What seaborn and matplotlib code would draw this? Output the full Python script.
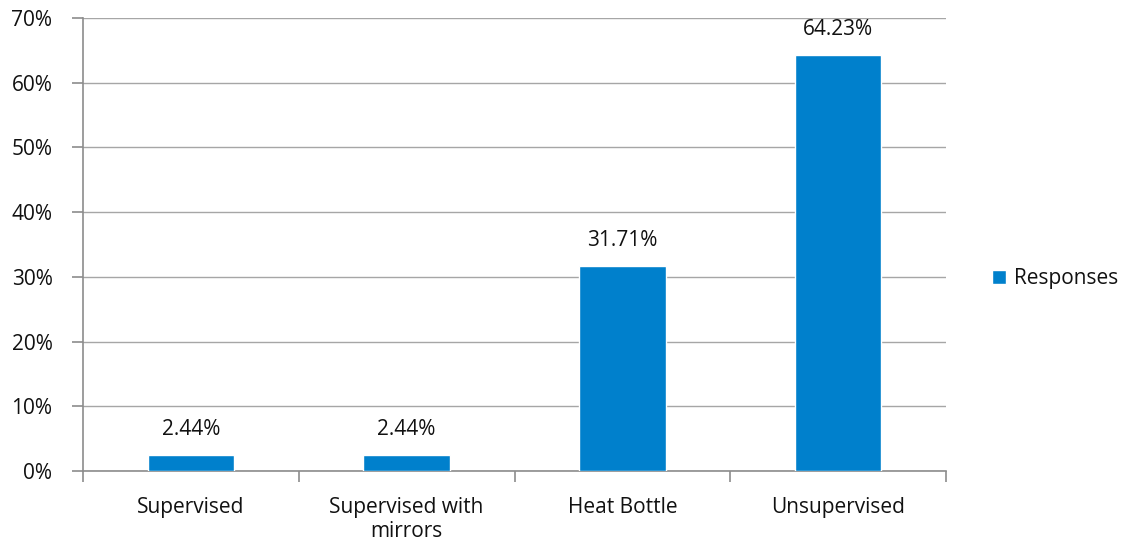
import matplotlib
matplotlib.use("Agg")
import matplotlib.pyplot as plt
import seaborn as sns
import pandas as pd

# Data
categories = ["Supervised", "Supervised with\nmirrors", "Heat Bottle", "Unsupervised"]
responses = [2.44, 2.44, 31.71, 64.23]
y_ticks = [0, 10, 20, 30, 40, 50, 60, 70]

BAR = "#0080CC"
GRID = "#A6A6A6"
AXIS = "#8C8C8C"
TXT = "#111111"
FS = 15

sns.set_style("white")
plt.rcParams["font.family"] = ["Open Sans", "DejaVu Sans"]
plt.rcParams["text.color"] = TXT
plt.rcParams["xtick.color"] = TXT
plt.rcParams["ytick.color"] = TXT

df = pd.DataFrame({"category": categories, "value": responses, "series": "Responses"})

fig = plt.figure(figsize=(11.24, 5.42), dpi=100)
ax = fig.add_axes([83 / 1124, 71 / 542, 863 / 1124, 453 / 542])

sns.barplot(data=df, x="category", y="value", hue="series", palette=[BAR],
            width=0.4, ax=ax, zorder=3, saturation=1)

ax.set_ylim(0, 70)
ax.set_xlim(-0.5, len(categories) - 0.5)
ax.set_yticks(y_ticks)
ax.set_yticklabels([f"{t}%" for t in y_ticks])
ax.yaxis.grid(True, color=GRID, linewidth=1, zorder=0)
ax.set_xlabel("")
ax.set_ylabel("")

for s in ["top", "right"]:
    ax.spines[s].set_visible(False)
for s in ["left", "bottom"]:
    ax.spines[s].set_color(AXIS)
    ax.spines[s].set_linewidth(1.2)

# category boundary ticks on x axis
ax.set_xticks([i - 0.5 for i in range(len(categories) + 1)], minor=False)
ax.set_xticklabels([])
ax.set_xticks(range(len(categories)), minor=True)
ax.set_xticklabels(categories, minor=True, fontsize=FS, linespacing=1.15)
ax.tick_params(axis="x", which="major", length=8, color=AXIS, width=1.2, direction="out")
ax.tick_params(axis="x", which="minor", length=0, pad=19)
ax.tick_params(axis="y", length=8, color=AXIS, width=1.2, direction="out", labelsize=FS, pad=14)
ax.tick_params(bottom=True, left=True)

for i, v in enumerate(responses):
    ax.annotate(f"{v:.2f}%", (i, v), xytext=(0, 11), textcoords="offset points",
                ha="center", va="bottom", fontsize=FS)

leg = ax.legend(loc="center left", bbox_to_anchor=(1.031, 0.424), frameon=False,
                fontsize=FS, handlelength=0.7, handleheight=0.7, handletextpad=0.4)

fig.savefig("out.png", dpi=100)
